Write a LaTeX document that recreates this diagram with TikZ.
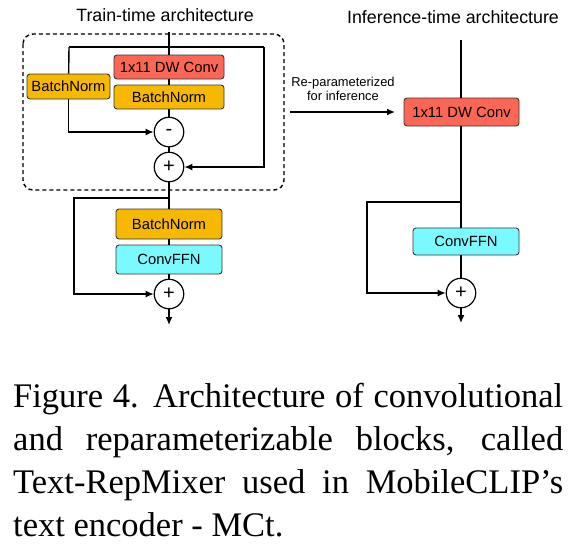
\documentclass[tikz,border=0pt]{standalone}
\usepackage{fontspec}
\setmainfont{Liberation Serif}
\newfontfamily\sfx{Liberation Sans}
\usetikzlibrary{arrows.meta}
\definecolor{convred}{RGB}{252,102,84}
\definecolor{bngold}{RGB}{246,184,0}
\definecolor{ffncyan}{RGB}{122,249,255}
\definecolor{edge}{RGB}{55,55,55}
\tikzset{
  blk/.style={draw=edge, line width=0.9pt, rounded corners=3pt, inner sep=0pt,
    font=\sfx\fontsize{14.8}{17}\selectfont, text=black},
  redblk/.style={blk, fill=convred},
  goldblk/.style={blk, fill=bngold},
  cyanblk/.style={blk, fill=ffncyan},
  opnode/.style={draw=black, circle, line width=1.2pt, fill=white, minimum size=29.5pt,
    inner sep=0pt, font=\sfx\fontsize{20}{20}\selectfont},
  conn/.style={line width=1.4pt, draw=black},
  arr/.style={conn, -{Latex[length=8pt,width=7pt]}},
  ttl/.style={font=\sfx\fontsize{17.8}{20}\selectfont, inner sep=0pt},
}
\begin{document}
\begin{tikzpicture}[x=1pt,y=-1pt]
\useasboundingbox (0,0) rectangle (577,558);
\fill[white] (0,0) rectangle (577,558);

% titles
\node[ttl, anchor=base] (ttitle) at (165,21.7) {Train-time architecture};
\node[ttl, anchor=base] (ititle) at (453,23.5) {Inference-time architecture};

% dashed region
\draw[line width=1.4pt, dash pattern=on 4pt off 3pt, rounded corners=10pt] (23,34) rectangle (284,190);

% train-time nodes
\node[redblk, minimum width=110pt, minimum height=24pt] (dw1) at (169,67) {1x11 DW Conv};
\node[goldblk, minimum width=110pt, minimum height=24pt] (bn1) at (169,97) {BatchNorm};
\node[goldblk, minimum width=83pt, minimum height=25pt] (bnl) at (68.5,86.5) {BatchNorm};
\node[opnode] (minus) at (169,132) {-};
\node[opnode] (plus1) at (169,167) {+};
\node[goldblk, minimum width=106pt, minimum height=30pt] (bn2) at (169,224) {BatchNorm};
\node[cyanblk, minimum width=106pt, minimum height=29pt] (ffn1) at (169,259.5) {ConvFFN};
\node[opnode] (plus2) at (169,294) {+};

\coordinate (tin) at (169,32);
\coordinate (sL) at (69,47);
\coordinate (sR) at (264,47);
\coordinate (j1) at (169,198);
\coordinate (c1) at (74,198);
\coordinate (out1) at (169,325);

\draw[conn] (tin) -- (dw1);
\draw[conn] (dw1) -- (bn1);
\draw[conn] (bn1) -- (minus);
\draw[conn] (minus) -- (plus1);
\draw[conn] (plus1) -- (bn2);
\draw[conn] (bn2) -- (ffn1);
\draw[conn] (ffn1) -- (plus2);
\draw[arr] (plus2) -- (out1);
\draw[conn] (sL) -- (sR);
\draw[conn] (sL) -- (bnl);
\draw[arr] (bnl.south) |- (minus);
\draw[arr] (sR) |- (plus1);
\draw[arr] (j1) -- (c1) |- (plus2);

% re-parameterization arrow
\coordinate (ra) at (290,112);
\coordinate (rb) at (395,112);
\draw[arr] (ra) -- (rb);
\node[anchor=north, inner sep=0pt, align=center, font=\sfx\fontsize{12.9}{14}\selectfont] (rlabel) at (343,76.5) {Re-parameterized\\for inference};

% inference-time nodes
\node[redblk, minimum width=115pt, minimum height=28pt] (dw2) at (461.5,112) {1x11 DW Conv};
\node[cyanblk, minimum width=106pt, minimum height=27pt] (ffn2) at (466,241.5) {ConvFFN};
\node[opnode] (plus3) at (461,293) {+};
\coordinate (top2) at (461,40);
\coordinate (j2) at (461,202);
\coordinate (c2) at (367,202);
\coordinate (out2) at (461,323);

\draw[conn] (top2) -- (dw2.north -| top2);
\draw[conn] (dw2.south -| top2) -- (j2) -- (j2 |- ffn2.north);
\draw[conn] (ffn2.south -| plus3) -- (plus3);
\draw[arr] (plus3) -- (out2);
\draw[arr] (j2) -- (c2) |- (plus3);

% caption
\node[anchor=base west, inner sep=0pt] (caption) at (13,407) {\parbox[t]{550pt}{\fontsize{34.5}{43.3}\selectfont\parindent=0pt
Figure 4. Architecture of convolutional\linebreak
and reparameterizable blocks, called\linebreak
Text-RepMixer used in MobileCLIP's\linebreak
text encoder - MCt.}};
\end{tikzpicture}
\end{document}
